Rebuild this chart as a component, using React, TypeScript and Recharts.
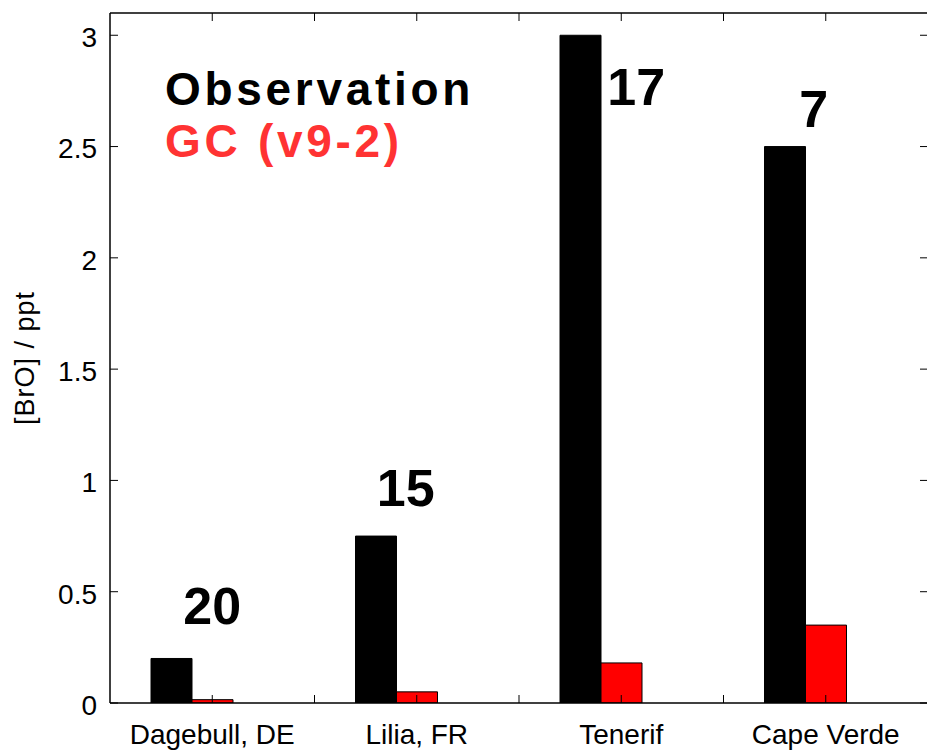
import { Bar, BarChart, Legend, ReferenceDot, XAxis, YAxis } from "recharts";

const FONT = '"Liberation Sans", Arial, Helvetica, sans-serif';

const sites = ["Dagebull, DE", "Lilia, FR", "Tenerif", "Cape Verde"];
const observed = [0.2, 0.75, 3.0, 2.5];
const modelled = [0.015, 0.05, 0.18, 0.35];

// number of measurements behind each observation
const counts = [20, 15, 17, 7];
// count labels: height in ppt, sideways nudge in px from the site centre
const countY = [0.44, 0.97, 2.77, 2.67];
const countDx = [0, -11, 15, -12];

const yTicks = [0, 0.5, 1, 1.5, 2, 2.5, 3];

const seriesNames = ["Observation", "GC (v9-2)"];
const seriesText = ["#000000", "#ff3333"];

const data = sites.map((site, i) => ({
  site,
  obs: observed[i],
  gc: modelled[i],
}));

const TICK = 8;
const TICK_FONT = 28;

function halfBand(props: any) {
  if (props.payload && typeof props.payload.offset === "number" && props.payload.offset > 0) {
    return props.payload.offset;
  }
  return props.width / (props.visibleTicksCount || sites.length) / 2;
}

// site name plus inward ticks at the centre and right edge of each slot
function BottomTick(props: any) {
  const { x, y, payload } = props;
  const half = halfBand(props);
  return (
    <g>
      <line x1={x} x2={x} y1={y} y2={y - TICK} stroke="#000" />
      <line x1={x + half} x2={x + half} y1={y} y2={y - TICK} stroke="#000" />
      <text x={x} y={y + 41} textAnchor="middle" fill="#000" fontSize={TICK_FONT} fontFamily={FONT}>
        {payload.value}
      </text>
    </g>
  );
}

function TopTick(props: any) {
  const { x, y } = props;
  const half = halfBand(props);
  return (
    <g>
      <line x1={x} x2={x} y1={y} y2={y + TICK} stroke="#000" />
      <line x1={x + half} x2={x + half} y1={y} y2={y + TICK} stroke="#000" />
    </g>
  );
}

function LeftTick({ x, y, payload }: any) {
  return (
    <g>
      <line x1={x} x2={x + TICK} y1={y} y2={y} stroke="#000" />
      <text
        x={x - 13}
        y={y + 2}
        dy="0.355em"
        textAnchor="end"
        fill="#000"
        fontSize={TICK_FONT}
        fontFamily={FONT}
      >
        {payload.value}
      </text>
    </g>
  );
}

function RightTick({ x, y }: any) {
  return <line x1={x - TICK} x2={x} y1={y} y2={y} stroke="#000" />;
}

function YLabel({ viewBox }: any) {
  const cy = viewBox ? viewBox.y + viewBox.height / 2 : 358;
  return (
    <text
      x={34}
      y={cy}
      transform={`rotate(-90 34 ${cy})`}
      textAnchor="middle"
      fill="#000"
      fontSize={27}
      letterSpacing={1}
      fontFamily={FONT}
    >
      [BrO] / ppt
    </text>
  );
}

function SeriesNames({ payload }: any) {
  const shown = new Set((payload || []).map((p: any) => p.value));
  return (
    <div>
      {seriesNames
        .filter((name) => shown.has(name))
        .map((name) => (
          <div
            key={name}
            style={{
              color: seriesText[seriesNames.indexOf(name)],
              fontFamily: FONT,
              fontWeight: "bold",
              fontSize: 46,
              letterSpacing: 3.7,
              lineHeight: "52px",
              whiteSpace: "nowrap",
            }}
          >
            {name}
          </div>
        ))}
    </div>
  );
}

export default function App() {
  return (
    <div
      style={{
        position: "fixed",
        left: 0,
        top: 0,
        width: 927,
        height: 751,
        overflow: "hidden",
        background: "#fff",
      }}
    >
      <BarChart
        width={940}
        height={751}
        data={data}
        margin={{ top: 0, right: 0, bottom: 0, left: 0 }}
        barGap={0}
        barCategoryGap={0}
      >
        <XAxis
          xAxisId="site"
          dataKey="site"
          orientation="bottom"
          height={48}
          interval={0}
          tickLine={false}
          tickSize={0}
          tickMargin={0}
          axisLine={{ stroke: "#000", strokeWidth: 1.5 }}
          tick={BottomTick}
        />
        <XAxis
          xAxisId="top"
          dataKey="site"
          orientation="top"
          height={13}
          interval={0}
          tickLine={false}
          tickSize={0}
          tickMargin={0}
          axisLine={{ stroke: "#000", strokeWidth: 1.5 }}
          tick={TopTick}
        />
        <YAxis
          yAxisId="left"
          domain={[0, 3.1]}
          ticks={yTicks}
          width={110}
          tickLine={false}
          tickSize={0}
          tickMargin={0}
          axisLine={{ stroke: "#000", strokeWidth: 1.5 }}
          tick={LeftTick}
          label={{ content: YLabel }}
          allowDataOverflow
        />
        <YAxis
          yAxisId="right"
          orientation="right"
          domain={[0, 3.1]}
          ticks={yTicks}
          width={12}
          tickLine={false}
          tickSize={0}
          tickMargin={0}
          axisLine={{ stroke: "#000", strokeWidth: 1.5 }}
          tick={RightTick}
          allowDataOverflow
        />
        <Bar
          xAxisId="site"
          yAxisId="left"
          dataKey="obs"
          name="Observation"
          fill="#000000"
          stroke="#000"
          barSize={41}
          isAnimationActive={false}
        />
        <Bar
          xAxisId="site"
          yAxisId="left"
          dataKey="gc"
          name="GC (v9-2)"
          fill="#ff0000"
          stroke="#000"
          barSize={41}
          isAnimationActive={false}
        />
        {/* empty slot so the pair sits left of each site */}
        <Bar
          xAxisId="site"
          yAxisId="left"
          dataKey="spacer"
          legendType="none"
          fill="none"
          barSize={41}
          isAnimationActive={false}
        />
        {counts.map((n, i) => (
          <ReferenceDot
            key={sites[i]}
            xAxisId="site"
            yAxisId="left"
            x={sites[i]}
            y={countY[i]}
            r={0}
            fill="none"
            stroke="none"
            label={{
              value: String(n),
              position: "center",
              dx: countDx[i],
              fill: "#000",
              fontSize: 52,
              fontWeight: "bold",
              fontFamily: FONT,
            }}
          />
        ))}
        <Legend
          layout="vertical"
          align="center"
          verticalAlign="middle"
          content={SeriesNames}
          wrapperStyle={{ left: 165, top: 63, width: 400 }}
        />
      </BarChart>
    </div>
  );
}
